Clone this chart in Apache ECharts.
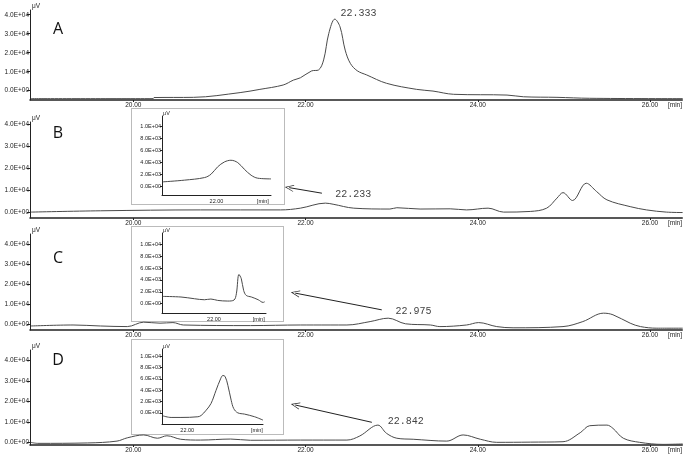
<!DOCTYPE html>
<html>
<head>
<meta charset="utf-8">
<script src="https://cdn.jsdelivr.net/npm/echarts@6/dist/echarts.min.js"></script>
<style>
  html, body { margin: 0; padding: 0; background: #fff; }
  #chart { width: 685px; height: 454px; }
</style>
</head>
<body>
<div id="chart"></div>
<script>
// retention time (min) / detector signal (uV)
const timeA = [18.81, 20.23, 20.24, 20.70, 21.24, 21.47, 21.74, 21.86, 21.94, 22.07, 22.15, 22.21, 22.27, 22.34, 22.40, 22.46, 22.52, 22.60, 22.71, 22.94, 23.29, 23.48, 23.72, 24.34, 24.53, 24.92, 25.30, 26.38];
const signalA = [-4200, -4200, -3600, -3500, -1000, 700, 3000, 5600, 6800, 10400, 10900, 16200, 30200, 37700, 33700, 21400, 14400, 10500, 8300, 3900, 700, -200, -1900, -2300, -3200, -3500, -4000, -4200];

const timeB = [18.81, 19.62, 20.78, 21.71, 21.94, 22.23, 22.32, 22.56, 22.98, 23.06, 23.33, 23.68, 23.87, 24.12, 24.30, 24.61, 24.80, 24.92, 24.99, 25.10, 25.26, 25.38, 25.50, 25.77, 25.96, 26.19, 26.38];
const signalB = [0, 600, 1000, 1000, 1800, 4100, 3600, 1800, 1400, 2000, 1400, 1500, 1000, 1800, 0, 300, 1800, 6400, 8900, 5300, 13200, 9400, 5600, 2500, 1000, 0, -200];

const timeC = [18.81, 19.30, 19.62, 19.93, 20.12, 20.31, 20.46, 20.58, 21.36, 21.94, 22.09, 22.48, 22.75, 22.96, 23.16, 23.45, 23.56, 23.87, 24.01, 24.22, 24.41, 24.99, 25.22, 25.46, 25.57, 25.77, 25.89, 26.08, 26.38];
const signalC = [-900, -400, -900, -1200, 1000, 500, 800, -400, -700, -400, -400, -400, 1300, 3000, 200, -400, -1200, -400, 800, -1200, -1800, -1200, 1300, 5500, 4700, 500, -1200, -2000, -2000];

const timeD = [18.81, 18.89, 19.47, 19.81, 19.93, 20.12, 20.28, 20.39, 20.55, 20.78, 21.13, 21.36, 21.94, 22.48, 22.63, 22.84, 22.94, 23.06, 23.25, 23.64, 23.83, 24.03, 24.22, 24.61, 24.99, 25.19, 25.30, 25.50, 25.57, 25.69, 25.88, 26.15, 26.38];
const signalD = [0, -500, -300, 600, 2200, 3600, 2000, 3200, 1500, 1100, 1600, 1000, 1100, 1100, 3100, 8400, 4400, 2000, 1500, 600, 3600, 1500, 0, 100, 300, 4700, 8100, 8400, 6800, 2000, 0, -1000, -800];

// zoomed insets
const insetTimeB = [20.03, 20.82, 21.56, 21.80, 22.04, 22.29, 22.53, 22.78, 23.02, 23.27, 23.51, 24.0];
const insetSignalB = [780, 1060, 1490, 2050, 3260, 4080, 4360, 3970, 2880, 1880, 1390, 1270];

const insetTimeC = [20.03, 20.73, 21.25, 21.63, 21.88, 22.14, 22.53, 22.77, 22.86, 22.96, 23.05, 23.14, 23.24, 23.44, 23.70, 23.89, 23.95];
const insetSignalC = [1230, 1130, 840, 670, 790, 560, 450, 620, 1680, 4920, 4200, 2240, 1400, 1130, 670, 220, 340];

const insetTimeD = [21.03, 21.36, 21.75, 22.42, 22.55, 22.75, 22.94, 23.14, 23.32, 23.41, 23.50, 23.61, 23.74, 23.84, 24.00, 24.27, 24.67, 25.0];
const insetSignalD = [-530, -820, -820, -700, -470, 470, 1640, 3980, 6020, 6610, 6430, 4850, 2220, 760, 0, -230, -700, -1290];

// tick values
const mainTimeTicks = [20, 22, 24, 26];
const mainSignalTicks = [0, 10000, 20000, 30000, 40000];
const insetSignalTicks = [0, 2000, 4000, 6000, 8000, 10000];
const insetTimeTick = [22];

// peak annotations: [label, time, signal of label anchor]
const peakLabels = [
  ["22.333", 22.40, 40900],
  ["22.233", 22.34, 8200],
  ["22.975", 23.04, 6300],
  ["22.842", 22.95, 10050]
];
// arrows (tip -> tail) for B, C, D
const arrowsBCD = [
  [[21.81, 11180], [22.19, 8640]],
  [[21.88, 15500], [22.885, 7150]],
  [[21.88, 18200], [22.77, 9760]]
];

function zip(t, v) {
  return t.map((x, i) => [x, v[i]]);
}

function sci(v) {
  if (Math.abs(v) < 1e-9) return "0.0E+00";
  const e = Math.floor(Math.log10(Math.abs(v)) + 1e-9);
  const m = v / Math.pow(10, e);
  return m.toFixed(1) + "E" + (e < 0 ? "-" : "+") + String(Math.abs(e)).padStart(2, "0");
}

const AX = "#222";
const TRACE = "#4a4a4a";
const FONT = "Liberation Sans";
const arrowHead = "path://M5,0L10,10L9,10L5,2L1,10L0,10Z";

const chart = echarts.init(document.getElementById("chart"));

// main panel grid boxes and y ranges
const mainGrids = [
  { top: 10, height: 90, min: -4900, max: 42500 },
  { top: 122, height: 96, min: -2700, max: 41200 },
  { top: 234, height: 96, min: -2900, max: 45000 },
  { top: 350, height: 95, min: -1300, max: 45000 }
];
const insetGrids = [
  { left: 162, top: 116, width: 109, height: 79, xmin: 20, xmax: 24, ymin: -1400, ymax: 11700, minAt: 23.7 },
  { left: 162, top: 233, width: 104, height: 80, xmin: 20, xmax: 24, ymin: -1560, ymax: 11900, minAt: 23.72 },
  { left: 162, top: 349, width: 101, height: 75, xmin: 21, xmax: 25, ymin: -1980, ymax: 11300, minAt: 24.76 }
];
const minLabelMain = 26.29;

const grid = [];
const xAxis = [];
const yAxis = [];

mainGrids.forEach(g => {
  grid.push({ left: 30, right: 2, top: g.top, height: g.height });
  const i = grid.length - 1;
  xAxis.push({
    type: "value", gridIndex: i, min: 18.8, max: 26.375,
    splitLine: { show: false },
    axisLine: { onZero: false, lineStyle: { color: AX, width: 1.5 } },
    axisTick: { show: true, length: 2, customValues: mainTimeTicks, lineStyle: { color: AX } },
    axisLabel: {
      customValues: mainTimeTicks.concat([minLabelMain]),
      fontSize: 6.5, fontFamily: FONT, color: AX, margin: 2,
      formatter: v => Math.abs(v - minLabelMain) < 1e-6 ? "[min]" : v.toFixed(2)
    }
  });
  yAxis.push({
    type: "value", gridIndex: i, min: g.min, max: g.max,
    name: "\u03bcV", nameLocation: "end", nameGap: 0,
    nameTextStyle: { fontSize: 6.5, fontFamily: FONT, color: AX, align: "left", verticalAlign: "bottom", padding: [0, 0, 0, 2] },
    splitLine: { show: false },
    axisLine: { show: true, onZero: false, lineStyle: { color: AX, width: 1 } },
    axisTick: { show: true, length: 3, customValues: mainSignalTicks, lineStyle: { color: AX } },
    axisLabel: { customValues: mainSignalTicks, fontSize: 6.5, fontFamily: FONT, color: AX, margin: 1, formatter: sci }
  });
});

insetGrids.forEach(g => {
  grid.push({ left: g.left, top: g.top, width: g.width, height: g.height });
  const i = grid.length - 1;
  xAxis.push({
    type: "value", gridIndex: i, min: g.xmin, max: g.xmax,
    splitLine: { show: false },
    axisLine: { onZero: false, lineStyle: { color: AX, width: 1 } },
    axisTick: { show: false },
    axisLabel: {
      customValues: insetTimeTick.concat([g.minAt]),
      fontSize: 5.5, fontFamily: FONT, color: AX, margin: 3,
      formatter: v => Math.abs(v - g.minAt) < 1e-6 ? "[min]" : v.toFixed(2)
    }
  });
  yAxis.push({
    type: "value", gridIndex: i, min: g.ymin, max: g.ymax,
    name: "\u03bcV", nameLocation: "end", nameGap: 0,
    nameTextStyle: { fontSize: 5.5, fontFamily: FONT, color: AX, align: "left", verticalAlign: "bottom", padding: [0, 0, 0, 1] },
    splitLine: { show: false },
    axisLine: { show: true, onZero: false, lineStyle: { color: AX, width: 1 } },
    axisTick: { show: true, length: 2, customValues: insetSignalTicks, lineStyle: { color: AX } },
    axisLabel: { customValues: insetSignalTicks, fontSize: 5.5, fontFamily: FONT, color: AX, margin: 1, formatter: sci }
  });
});

function trace(idx, data) {
  return {
    type: "line", xAxisIndex: idx, yAxisIndex: idx, data: data,
    showSymbol: false, smooth: 0.35,
    lineStyle: { color: TRACE, width: 1 }, silent: true
  };
}

const mainData = [zip(timeA, signalA), zip(timeB, signalB), zip(timeC, signalC), zip(timeD, signalD)];
const insetData = [zip(insetTimeB, insetSignalB), zip(insetTimeC, insetSignalC), zip(insetTimeD, insetSignalD)];

const series = [];
mainData.forEach((d, i) => {
  const s = trace(i, d);
  const p = peakLabels[i];
  s.markPoint = {
    symbol: "circle", symbolSize: 1, silent: true,
    itemStyle: { color: "rgba(0,0,0,0)" },
    label: {
      show: true, position: "right", distance: 0, formatter: p[0],
      fontFamily: "Liberation Mono", fontSize: 10, color: "#444"
    },
    data: [{ coord: [p[1], p[2]] }]
  };
  if (i > 0) {
    const a = arrowsBCD[i - 1];
    s.markLine = {
      silent: true, symbol: [arrowHead, "none"], symbolSize: [7, 9],
      label: { show: false },
      lineStyle: { color: "#222", width: 1, type: "solid" },
      data: [[{ coord: a[0] }, { coord: a[1] }]]
    };
  }
  series.push(s);
});
insetData.forEach((d, i) => series.push(trace(4 + i, d)));

const boxes = [[131, 108, 153, 96], [131, 226, 152, 95], [131, 339, 152, 95]];
const letters = [["A", 29], ["B", 133], ["C", 258], ["D", 360]];

const graphic = [];
boxes.forEach(b => graphic.push({
  type: "rect", shape: { x: b[0] + 0.5, y: b[1] + 0.5, width: b[2], height: b[3] },
  style: { fill: null, stroke: "#777", lineWidth: 1, lineDash: [1, 1] }, silent: true
}));
letters.forEach(l => graphic.push({
  type: "text", x: 58, y: l[1],
  style: { text: l[0], font: "16px 'Open Sans'", fill: "#111", align: "center", verticalAlign: "middle" }
}));

chart.setOption({
  animation: false,
  backgroundColor: "#fff",
  grid: grid,
  xAxis: xAxis,
  yAxis: yAxis,
  series: series,
  graphic: graphic
});
</script>
</body>
</html>
